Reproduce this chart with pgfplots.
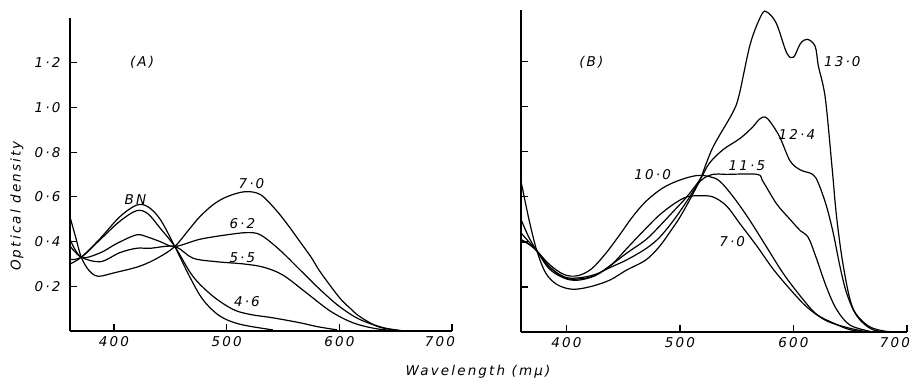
\documentclass[border=0pt]{standalone}
\usepackage{fontspec}
\setmainfont{DejaVu Sans}
\newfontfamily\lab[LetterSpace=16]{DejaVu Sans}
\usepackage{pgfplots}
\pgfplotsset{compat=1.18}
\newcommand{\lf}{\lab\itshape\fontsize{13.5}{15}\selectfont}
\pgfplotsset{
  cv/.style={black, line width=1.2pt, smooth, tension=0.55, mark=none},
  spec/.style={
    scale only axis,
    axis lines=left,
    axis line style={-, line width=1.2pt},
    tick align=inside,
    major tick length=7pt,
    tick style={line width=1.2pt, black},
    ymin=0,
    xtick={400,500,600,700},
    xticklabels={400,500,600,{\kern-12pt 700\kern12pt}},
    ticklabel style={font=\lf},
    xticklabel style={yshift=-2pt},
    yticklabel style={xshift=-6pt},
  },
}
\begin{document}
\begin{tikzpicture}[x=1pt,y=1pt]
\useasboundingbox (0,0) rectangle (913,384);
% ---------------- Panel A ----------------
\begin{axis}[spec, at={(70pt,53pt)}, anchor=south west, width=382pt, height=313pt,
  xmin=361, xmax=700, ymax=1.4,
  ytick={0.2,0.4,0.6,0.8,1.0,1.2},
  yticklabels={0·2,0·4,0·6,0·8,1·0,1·2}]
% pH 7.0
\addplot[cv] coordinates {(361,0.51) (366,0.42) (371,0.33) (378,0.27) (386,0.245) (400,0.26) (423,0.29) (440,0.33) (454,0.378) (466,0.45) (476,0.51) (488,0.565) (500,0.60) (516,0.623) (530,0.61) (544,0.54) (555,0.47) (565,0.40) (575,0.33) (583,0.265) (600,0.15) (610,0.10) (618,0.065) (633,0.022) (645,0.008) (657,0.0)};
% BN
\addplot[cv] coordinates {(361,0.30) (371,0.33) (388,0.415) (405,0.51) (420,0.563) (430,0.556) (441,0.50) (454,0.378) (467,0.245) (479,0.14) (494,0.067) (512,0.03) (541,0.005)};
% pH 4.6
\addplot[cv] coordinates {(361,0.32) (371,0.33) (388,0.41) (405,0.49) (420,0.538) (430,0.525) (441,0.46) (454,0.378) (470,0.245) (488,0.155) (506,0.096) (521,0.074) (541,0.059) (565,0.037) (580,0.02) (598,0.005)};
% pH 6.2
\addplot[cv] coordinates {(361,0.41) (371,0.33) (388,0.35) (402,0.39) (420,0.43) (430,0.42) (441,0.40) (454,0.378) (476,0.41) (500,0.43) (518,0.44) (530,0.43) (547,0.363) (565,0.274) (583,0.185) (600,0.11) (618,0.052) (639,0.015) (655,0.002)};
% pH 5.5
\addplot[cv] coordinates {(361,0.38) (371,0.33) (388,0.31) (405,0.35) (420,0.37) (432,0.37) (454,0.378) (470,0.326) (491,0.31) (515,0.30) (533,0.285) (550,0.25) (571,0.17) (592,0.089) (612,0.037) (633,0.01) (655,0.0)};
\node[font=\lf] at (425,1.2) {(A)};
\node[font=\lf] at (419,0.59) {BN};
\node[font=\lf] at (522,0.66) {7·0};
\node[font=\lf] at (514,0.48) {6·2};
\node[font=\lf] at (514,0.33) {5·5};
\node[font=\lf] at (518,0.13) {4·6};
\end{axis}
% ---------------- Panel B ----------------
\begin{axis}[spec, at={(521pt,52pt)}, anchor=south west, width=386pt, height=322pt,
  xmin=360, xmax=700, ymax=1.43,
  ytick={0.2,0.4,0.6,0.8,1.0,1.2},
  yticklabels={}]
% pH 13.0
\addplot[cv] coordinates {(360,0.67) (367,0.50) (374,0.36) (382,0.26) (392,0.21) (405,0.19) (420,0.20) (438,0.23) (453,0.275) (470,0.32) (482,0.38) (492,0.45) (500,0.51) (510,0.60) (518,0.68) (529,0.82) (546,0.97) (552,1.05) (562,1.28) (572,1.41) (577,1.42) (585,1.37) (594,1.24) (600,1.22) (606,1.28) (612,1.30) (619,1.27) (622,1.18) (628,1.04) (634,0.73) (638,0.51) (644,0.29) (652,0.11) (665,0.03) (679,0.005) (693,0.0)};
% pH 12.4
\addplot[cv] coordinates {(360,0.50) (367,0.42) (374,0.36) (385,0.28) (398,0.24) (410,0.235) (425,0.25) (440,0.30) (453,0.35) (470,0.41) (482,0.47) (495,0.54) (506,0.60) (518,0.68) (526,0.75) (538,0.81) (553,0.86) (564,0.91) (570,0.945) (575,0.955) (580,0.93) (588,0.865) (597,0.76) (606,0.72) (617,0.70) (622,0.66) (629,0.56) (635,0.44) (641,0.29) (647,0.17) (656,0.07) (670,0.01) (690,0.0)};
% pH 11.5
\addplot[cv] coordinates {(360,0.44) (367,0.40) (374,0.36) (385,0.29) (398,0.245) (410,0.24) (425,0.255) (440,0.29) (453,0.32) (470,0.37) (482,0.42) (495,0.50) (506,0.58) (518,0.67) (529,0.70) (541,0.70) (568,0.70) (573,0.67) (585,0.57) (597,0.50) (606,0.45) (613,0.42) (620,0.33) (629,0.20) (638,0.10) (650,0.03) (670,0.0)};
% pH 10.0
\addplot[cv] coordinates {(360,0.41) (367,0.39) (374,0.36) (385,0.30) (398,0.255) (410,0.25) (422,0.28) (434,0.345) (446,0.425) (458,0.51) (470,0.58) (485,0.64) (500,0.675) (515,0.695) (526,0.69) (535,0.67) (547,0.60) (561,0.50) (576,0.38) (591,0.26) (606,0.16) (620,0.08) (635,0.04) (650,0.01) (665,0.0)};
% pH 7.0
\addplot[cv] coordinates {(360,0.41) (367,0.39) (374,0.36) (385,0.29) (398,0.24) (410,0.23) (425,0.25) (440,0.30) (453,0.37) (470,0.46) (482,0.52) (495,0.57) (506,0.60) (517,0.605) (529,0.60) (541,0.56) (553,0.48) (568,0.38) (582,0.28) (597,0.19) (612,0.11) (629,0.05) (647,0.02) (665,0.0)};
\node[font=\lf] at (422,1.2) {(B)};
\node[font=\lf] at (643,1.2) {13·0};
\node[font=\lf] at (603,0.875) {12·4};
\node[font=\lf] at (559,0.74) {11·5};
\node[font=\lf] at (476,0.70) {10·0};
\node[font=\lf] at (546,0.40) {7·0};
\end{axis}
\node[font=\lf, rotate=90] at (17,178) {Optical density};
\node[font=\lf] at (478,12) {Wavelength (mμ)};
\end{tikzpicture}
\end{document}
